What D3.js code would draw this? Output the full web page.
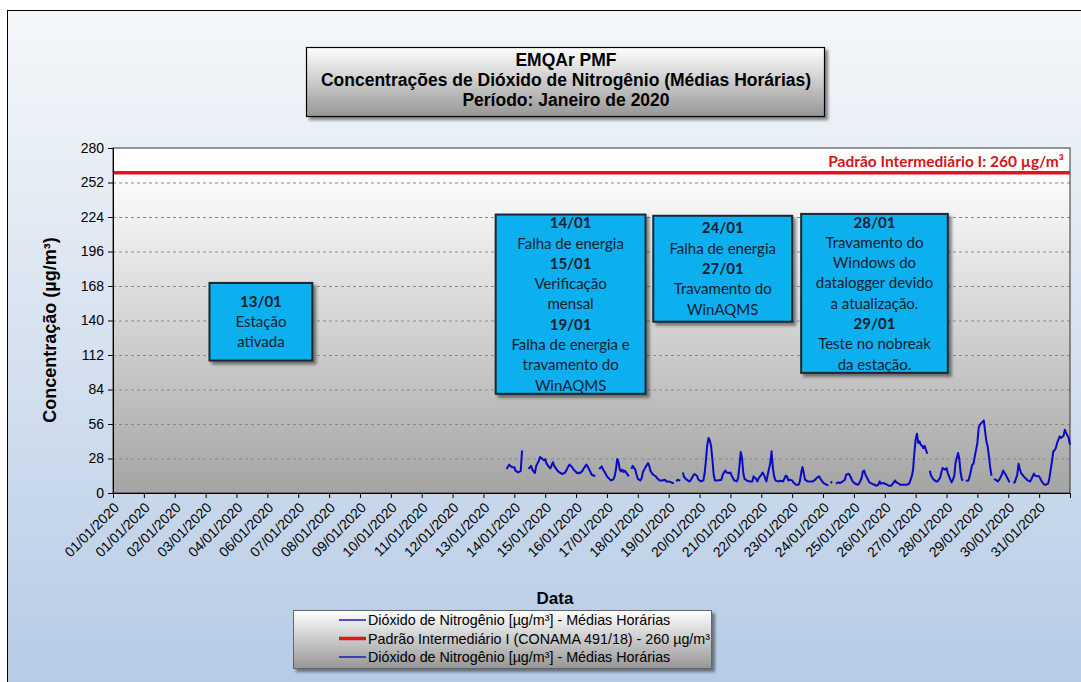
<!DOCTYPE html>
<html>
<head>
<meta charset="utf-8">
<script src="https://cdn.jsdelivr.net/npm/d3@7"></script>
<style>
  body { margin: 0; background: #fff; }
  svg { display: block; font-family: "Liberation Sans", Arial, sans-serif; }
</style>
</head>
<body>
<div id="grafico"></div>
<script>
// rótulos do eixo X (um a cada 24 h, como no original)
var rotulosX = ["01/01/2020", "01/01/2020", "02/01/2020", "03/01/2020", "04/01/2020", "06/01/2020",
  "07/01/2020", "08/01/2020", "09/01/2020", "10/01/2020", "11/01/2020", "12/01/2020", "13/01/2020",
  "14/01/2020", "15/01/2020", "16/01/2020", "17/01/2020", "18/01/2020", "19/01/2020", "20/01/2020",
  "21/01/2020", "22/01/2020", "23/01/2020", "24/01/2020", "25/01/2020", "26/01/2020", "27/01/2020",
  "28/01/2020", "29/01/2020", "30/01/2020", "31/01/2020"];

var ticksY = [0, 28, 56, 84, 112, 140, 168, 196, 224, 252, 280];

var padrao = 260; // Padrão Intermediário I

// horas desde 01/01 00:00 e médias horárias de NO2 (null = falha)
var horas = [
  306, 308, 310, 312, 313, 315, 317, 318, 320,
  323, 325, 326, 328, 329, 331, 332, 334, 335, 336, 337, 339, 340, 342, 343, 345, 346, 348, 349, 351,
  352, 354, 355, 357, 358, 360, 361, 362, 363, 365, 366, 368, 369, 371, 372, 374, 375, 377,
  378, 380, 381, 383, 384, 386, 387, 389, 390, 391, 392, 393, 394, 395, 396, 397, 398, 399, 401, 402,
  403, 404, 406, 407, 408, 410, 411, 412, 414, 416, 417, 418, 420, 422, 423, 425, 427, 429, 430, 432,
  434, 435, 436, 437,
  438, 439, 441, 442,
  443, 444, 446, 448, 449, 451, 452, 454, 455, 457, 459, 460, 461, 462, 463, 464, 465, 466, 467, 468,
  470, 473, 474, 476, 477, 479, 480, 481, 483, 485, 486, 487, 488, 489, 490, 491, 493, 495, 497, 498,
  500, 501, 502, 504, 505, 506, 507, 508, 509, 511, 512, 513, 514, 515, 517, 519, 521, 523, 524, 525,
  526, 528, 529, 530, 531, 533, 534, 535, 536, 537, 538, 540, 542, 544, 546, 547, 549, 550, 552, 553,
  555, 556, 557,
  558, 559, 560,
  562, 564, 565, 567, 569, 570, 572, 573, 575, 577, 579, 580, 582, 583, 584, 585, 587, 588, 590, 592,
  593, 595, 596, 597, 599, 600, 602, 603, 605, 607, 608, 609, 611, 612, 614, 617, 619, 621, 622, 623,
  624, 625, 626, 627, 628, 629, 630, 631, 632, 633, 634,
  635, 636, 638, 640, 641, 643, 644, 645, 647, 648, 649, 651, 652, 654, 655, 657, 658, 659, 660, 661, 662,
  663, 665, 666, 667, 668, 669, 670, 672, 673, 674, 675, 676, 677, 678, 679, 680, 681, 682, 683, 684,
  685, 686, 688, 689, 691, 692, 694, 696, 697, 698,
  700, 701, 703, 704, 705, 706, 708, 710, 711, 713, 714, 716, 717, 719, 720, 722, 724, 725, 727, 728,
  729, 730, 731, 732, 733, 734, 736, 737, 739, 740, 741, 743, 744
];

var no2 = [
  19.5, 23, 21, 21, 18, 16.7, 18, 34.5, null,
  19.5, 22, 19, 16.2, 22, 26, 29.2, 27.5, 26.5, 27.5, 24, 21, 20, 25, 22, 19, 17.5, 16.2, 15.4, 16.2,
  17.5, 21.6, 23, 21, 19, 17, 16, 16.5, 16, 18, 20, 23, 21.5, 17.5, 15, 14, 14, null,
  19.5, 21.6, 19, 15.7, 13.5, 11.4, 10.2, 11, 13.5, 19, 27.6, 25, 19, 17.5, 19, 17, 18, 16.5, 13.5, null,
  19.5, 22, 19, 15, 11.5, 10.2, 12, 17, 21, 24.3, 21.6, 17.5, 14.8, 13.5, 12, 10.2, 10.2, 10.8, 9.4, 9.4,
  8.6, 8.1, 8.1, null,
  9.4, 10.8, 10, null,
  16.7, 13, 10.8, 9.4, 10.2, 14, 15.4, 14, 11, 9.4, 10.2, 16.2, 27, 39.2, 44.6, 42.7, 37.8, 27, 14.8, 10.2,
  10.2, 10.8, 14.8, 18.3, 16.7, 16.2, 16.7, 14, 10.2, 9.4, 12, 21.6, 33.3, 28.4, 16.2, 11.4, 10, 9.4, 9.4, 13.5,
  11.4, 9.4, 12, 14.8, 16.7, 14.8, 12, 9.4, 14.8, 24.3, 33.8, 20.3, 13.5, 10.2, 9.4, 9.9, 9.4, 14, 13.5, 10.2,
  10.8, 10.2, 8.6, 7.6, 6.7, 6.7, 9.4, 16.2, 21.1, 16.2, 10.8, 9.4, 9.4, 9.4, 10.8, 12.2, 13.5, 11.4, 8.6, 7.6,
  6.7, 5.9, null,
  8.1, 9.4, null,
  7.6, 8.6, 8.1, 9.1, 10.8, 14.8, 15.7, 14, 9.4, 7.6, 6.7, 7.6, 12.2, 17.5, 18.3, 14.8, 10.8, 8.6, 7.6, 6.7,
  5.9, 6.7, 9.4, 7.6, 8.1, 7.6, 6.7, 5.9, 5.9, 8.6, 10.2, 8.6, 7.6, 6.7, 6.7, 6.7, 7.6, 13.5, 18.9, 32.5,
  43.3, 48.1, 40.6, 41.9, 39, 38.3, 36.4, 38.3, 35.1, 31.9, null,
  18.1, 14, 10.8, 9.4, 9.4, 12.2, 16.7, 20.3, 18.9, 20.3, 16.2, 10.8, 8.6, 13.5, 24.3, 32.5, 27, 16.2, 10.8, 10.2, null,
  9.9, 10.2, 13.5, 18.3, 22.9, 23.8, 29.7, 40.6, 52.8, 55.4, 56.8, 57.5, 58.9, 50, 42, 37.8, 29.7, 20.3, 14, null,
  11.4, 10.8, 9.4, 10.8, 14.8, 18.3, 14.8, 10.8, 8.6, null,
  8.1, 8.6, 14.8, 23.8, 19.5, 16.2, 13.5, 11.4, 10.2, 9.4, 11.4, 15.7, 14, 13.5, 13.5, 9.4, 6.7, 6.7, 7.6, 12.2,
  18.9, 25.7, 33.8, 34.6, 36.5, 40.6, 46, 44.6, 46.5, 51.4, 48.7, 44.6, 39.2
];

// caixas de ocorrências (posição em horas / µg/m³)
var notas = [
  {h0: 75, h1: 155, v0: 170.5, v1: 107.5, linhas: [["13/01", 1], ["Estação", 0], ["ativada", 0]]},
  {h0: 297.5, h1: 414, v0: 226, v1: 80.5, linhas: [["14/01", 1], ["Falha de energia", 0], ["15/01", 1],
    ["Verificação", 0], ["mensal", 0], ["19/01", 1], ["Falha de energia e", 0], ["travamento do", 0], ["WinAQMS", 0]]},
  {h0: 420, h1: 528, v0: 225, v1: 139, linhas: [["24/01", 1], ["Falha de energia", 0], ["27/01", 1],
    ["Travamento do", 0], ["WinAQMS", 0]]},
  {h0: 535, h1: 649, v0: 226.5, v1: 97.5, linhas: [["28/01", 1], ["Travamento do", 0], ["Windows do", 0],
    ["datalogger devido", 0], ["a atualização.", 0], ["29/01", 1], ["Teste no nobreak", 0], ["da estação.", 0]]}
];

var legenda = [
  {nome: "Dióxido de Nitrogênio [µg/m³] - Médias Horárias", cor: "#1a1ab8", w: 1.5},
  {nome: "Padrão Intermediário I (CONAMA 491/18) - 260 µg/m³", cor: "#e0161b", w: 3.5},
  {nome: "Dióxido de Nitrogênio [µg/m³] - Médias Horárias", cor: "#1a1ab8", w: 1.5}
];

// dimensões
var W = 1081, H = 682;
var margin = {top: 148, right: 11, bottom: 189, left: 113},
    width = W - margin.left - margin.right,
    height = H - margin.top - margin.bottom;

var svg = d3.select("#grafico")
  .append("svg")
    .attr("width", W)
    .attr("height", H);

var defs = svg.append("defs");

function gradiente(id, stops) {
  var g = defs.append("linearGradient").attr("id", id)
    .attr("x1", 0).attr("y1", 0).attr("x2", 0).attr("y2", 1);
  stops.forEach(function(s) {
    g.append("stop").attr("offset", s[0]).attr("stop-color", s[1]);
  });
}
gradiente("fundo", [[0, "#f4f7fa"], [0.3, "#e2eaf3"], [1, "#b3c9e5"]]);
gradiente("area", [[0, "#ffffff"], [0.08, "#fdfdfd"], [1, "#a4a4a4"]]);
gradiente("caixa", [[0, "#ffffff"], [1, "#969696"]]);

var sombra = defs.append("filter").attr("id", "sombra")
  .attr("x", "-10%").attr("y", "-10%").attr("width", "130%").attr("height", "140%");
sombra.append("feDropShadow").attr("dx", 3).attr("dy", 3).attr("stdDeviation", 1.5)
  .attr("flood-color", "#000").attr("flood-opacity", 0.45);

// fundo do gráfico (moldura só em cima e à esquerda)
svg.append("rect")
  .attr("x", 7.5).attr("y", 10.5)
  .attr("width", W + 20).attr("height", H + 20)
  .attr("fill", "url(#fundo)")
  .attr("stroke", "#000");

// título
var tit = svg.append("g");
tit.append("rect")
  .attr("x", 306.5).attr("y", 47.5).attr("width", 518).attr("height", 69)
  .attr("fill", "url(#caixa)").attr("stroke", "#000").attr("stroke-width", 1.2)
  .attr("filter", "url(#sombra)");
["EMQAr PMF", "Concentrações de Dióxido de Nitrogênio (Médias Horárias)", "Período: Janeiro de 2020"]
  .forEach(function(t, i) {
    tit.append("text")
      .attr("x", 566).attr("y", 65.5 + i * 20.4)
      .attr("text-anchor", "middle")
      .style("font-size", "17.5px").style("font-weight", "bold")
      .text(t);
  });

var g = svg.append("g")
  .attr("transform", "translate(" + margin.left + "," + margin.top + ")");

// escalas
var x = d3.scaleLinear().domain([0, 744]).range([0, width]);
var y = d3.scaleLinear().domain([0, 280]).range([height, 0]);

g.append("rect")
  .attr("width", width).attr("height", height)
  .attr("fill", "url(#area)");

// linhas de grade
g.selectAll(".grade")
  .data(ticksY.filter(function(d) { return d > 0 && d < 280; }))
  .enter().append("line")
    .attr("x1", 0).attr("x2", width)
    .attr("y1", function(d) { return y(d) + 0.5; })
    .attr("y2", function(d) { return y(d) + 0.5; })
    .attr("stroke", "#8a8a8a")
    .attr("stroke-dasharray", "3,3");

// borda da área
g.append("rect")
  .attr("width", width).attr("height", height)
  .attr("fill", "none").attr("stroke", "#333");

// padrão 260
g.append("line")
  .attr("x1", 0).attr("x2", width)
  .attr("y1", y(padrao)).attr("y2", y(padrao))
  .attr("stroke", "#e0161b").attr("stroke-width", 3.5);

g.append("text")
  .attr("x", width - 6).attr("y", y(padrao) - 6)
  .attr("text-anchor", "end")
  .style("font-family", "Lato, sans-serif")
  .style("font-size", "15.5px").style("font-weight", "bold")
  .attr("fill", "#d4141a")
  .text("Padrão Intermediário I: 260 µg/m³");

// série NO2
var serie = horas.map(function(h, i) { return {h: h, v: no2[i]}; });
var linha = d3.line()
  .defined(function(d) { return d.v !== null; })
  .x(function(d) { return x(d.h); })
  .y(function(d) { return y(d.v); });

g.append("path")
  .datum(serie)
  .attr("d", linha)
  .attr("fill", "none")
  .attr("stroke", "#0a0ac4")
  .attr("stroke-width", 2)
  .attr("stroke-linejoin", "round");

// eixo Y
var eixoY = g.append("g")
  .call(d3.axisLeft(y).tickValues(ticksY).tickSize(5).tickPadding(4));
eixoY.select(".domain").attr("stroke", "#000");
eixoY.selectAll("text").style("font-size", "14px").attr("fill", "#000");

// eixo X
var eixoX = g.append("g")
  .attr("transform", "translate(0," + height + ")")
  .call(d3.axisBottom(x)
    .tickValues(d3.range(rotulosX.length).map(function(i) { return i * 24; }))
    .tickFormat(function(d, i) { return rotulosX[i]; })
    .tickSize(5));
eixoX.select(".domain").attr("stroke", "#000");
eixoX.selectAll("text")
  .attr("x", 0).attr("y", 0).attr("dy", "0.35em")
  .attr("transform", "translate(3,12) rotate(-45)")
  .style("text-anchor", "end")
  .style("font-size", "14px")
  .attr("fill", "#000");

// títulos dos eixos
svg.append("text")
  .attr("transform", "translate(56,330) rotate(-90)")
  .attr("text-anchor", "middle")
  .style("font-size", "18px").style("font-weight", "bold")
  .text("Concentração (µg/m³)");

svg.append("text")
  .attr("x", 555).attr("y", 604)
  .attr("text-anchor", "middle")
  .style("font-size", "17px").style("font-weight", "bold")
  .text("Data");

// caixas de ocorrências
var cx = g.selectAll(".nota")
  .data(notas)
  .enter().append("g");

cx.append("rect")
  .attr("x", function(d) { return x(d.h0); })
  .attr("y", function(d) { return y(d.v0); })
  .attr("width", function(d) { return x(d.h1) - x(d.h0); })
  .attr("height", function(d) { return y(d.v1) - y(d.v0); })
  .attr("fill", "#0cb0ee")
  .attr("stroke", "#1c2633").attr("stroke-width", 2)
  .attr("filter", "url(#sombra)");

cx.each(function(d) {
  var alto = y(d.v1) - y(d.v0), lh = 20.3;
  var topo = y(d.v0) + (alto - lh * d.linhas.length) / 2 + lh / 2;
  d3.select(this).selectAll("text")
    .data(d.linhas)
    .enter().append("text")
      .attr("x", (x(d.h0) + x(d.h1)) / 2)
      .attr("y", function(l, i) { return topo + i * lh; })
      .attr("dy", "0.35em")
      .attr("text-anchor", "middle")
      .style("font-family", "Lato, sans-serif")
      .style("font-size", "15px")
      .style("font-weight", function(l) { return l[1] ? "bold" : "normal"; })
      .attr("fill", "#10202e")
      .text(function(l) { return l[0]; });
});

// legenda
var leg = svg.append("g");
leg.append("rect")
  .attr("x", 293.5).attr("y", 610.5).attr("width", 418).attr("height", 58)
  .attr("fill", "url(#caixa)").attr("stroke", "#666")
  .attr("filter", "url(#sombra)");

var itens = leg.selectAll(".item")
  .data(legenda)
  .enter().append("g")
    .attr("transform", function(d, i) { return "translate(0," + (620 + i * 18.5) + ")"; });
itens.append("line")
  .attr("x1", 339).attr("x2", 366)
  .attr("stroke", function(d) { return d.cor; })
  .attr("stroke-width", function(d) { return d.w; });
itens.append("text")
  .attr("x", 368).attr("dy", "0.35em")
  .style("font-size", "14.3px")
  .text(function(d) { return d.nome; });
</script>
</body>
</html>
